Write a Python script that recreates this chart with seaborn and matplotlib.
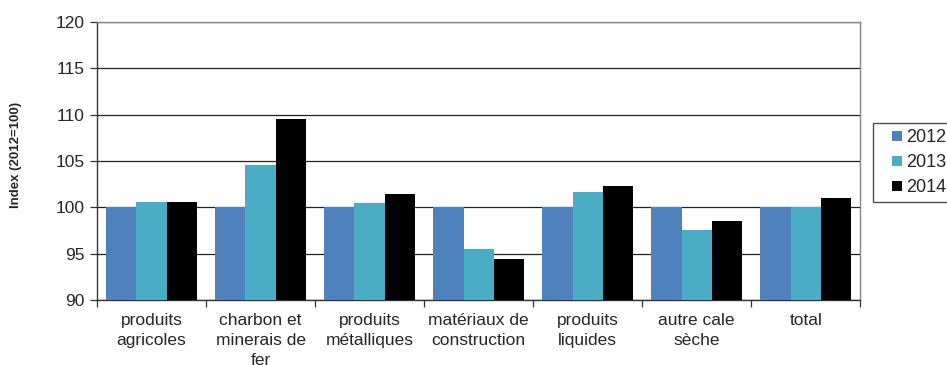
import numpy as np
import pandas as pd
import matplotlib
matplotlib.use('Agg')
import matplotlib.pyplot as plt
from matplotlib.lines import Line2D
import seaborn as sns

# data
categories = ['produits\nagricoles', 'charbon et\nminerais de\nfer', 'produits\nmétalliques',
              'matériaux de\nconstruction', 'produits\nliquides', 'autre cale\nsèche', 'total']
years = ['2012', '2013', '2014']
vals_2012 = [100.0, 100.0, 100.0, 100.0, 100.0, 100.0, 100.0]
vals_2013 = [100.6, 104.6, 100.5, 95.5, 101.6, 97.5, 100.0]
vals_2014 = [100.6, 109.5, 101.4, 94.4, 102.3, 98.5, 101.0]
colors = ['#4F81BD', '#4BACC6', '#000000']

df = pd.DataFrame({
    'cat': categories * 3,
    'year': [y for y in years for _ in categories],
    'val': vals_2012 + vals_2013 + vals_2014,
})

sns.set_style('white')
plt.rcParams['font.family'] = ['Liberation Sans', 'DejaVu Sans']

fig = plt.figure(figsize=(9.47, 3.65), dpi=100)
ax = fig.add_axes([0.1024, 0.178, 0.806, 0.762])

sns.barplot(data=df, x='cat', y='val', hue='year', palette=colors, width=0.83,
            saturation=1, linewidth=0, ax=ax, zorder=3)

ax.set_ylim(90, 120)
ax.set_yticks(np.arange(90, 121, 5))
ax.set_xlim(-0.5, len(categories) - 0.5)
ax.yaxis.grid(True, color='#222222', linewidth=0.9, zorder=0)
ax.set_axisbelow(True)

ax.tick_params(axis='y', labelsize=12.5, length=5, width=0.9, color='#333333', left=True, pad=4)
ax.tick_params(axis='x', labelsize=12.5, length=0, pad=9)
ax.set_xticks(np.arange(-0.5, len(categories), 1), minor=True)
ax.tick_params(axis='x', which='minor', length=5, width=0.9, color='#333333', bottom=True)
for lbl in ax.get_xticklabels():
    lbl.set_linespacing(1.45)

for side in ['left', 'bottom']:
    ax.spines[side].set_color('#333333')
    ax.spines[side].set_linewidth(1.0)
for side in ['top', 'right']:
    ax.spines[side].set_color('#888888')
    ax.spines[side].set_linewidth(1.0)

ax.set_xlabel('')
ax.set_ylabel('Index (2012=100)', fontsize=9.5, fontweight='bold')
ax.yaxis.set_label_coords(-0.098, 0.52)

# legend with small square markers
ax.get_legend().remove()
handles = [Line2D([], [], linestyle='none', marker='s', markersize=7.2,
                  markerfacecolor=c, markeredgewidth=0) for c in colors]
ax.legend(handles, years, loc='upper left', bbox_to_anchor=(1.0165, 0.636), fontsize=13,
          frameon=True, fancybox=False, edgecolor='#222222', handlelength=2.05,
          handletextpad=-0.5, labelspacing=0.45, borderpad=0.32, borderaxespad=0)

fig.savefig('out.png', dpi=100)
